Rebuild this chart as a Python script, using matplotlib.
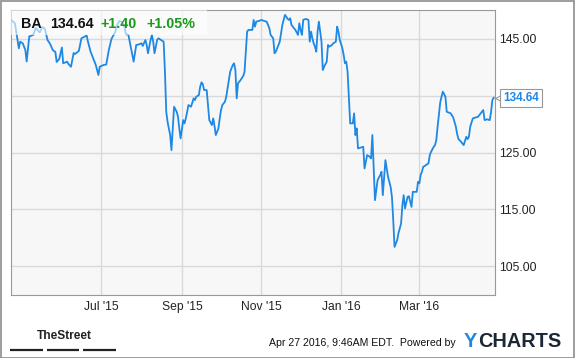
import matplotlib
matplotlib.use("Agg")
import matplotlib.pyplot as plt
import matplotlib.transforms as mtransforms
from matplotlib.patches import Rectangle
from matplotlib.lines import Line2D
import pandas as pd

# header / footer text
ticker = "BA"
change = "+1.40"
change_pct = "+1.05%"
stamp = "Apr 27 2016, 9:46AM EDT.  Powered by"

# daily closes
dates = [
    "2015-04-23", "2015-04-26", "2015-04-28", "2015-04-29", "2015-04-30", "2015-05-02", "2015-05-04",
    "2015-05-05", "2015-05-07", "2015-05-10", "2015-05-12", "2015-05-15", "2015-05-17", "2015-05-19",
    "2015-05-21", "2015-05-23", "2015-05-25", "2015-05-27", "2015-05-28", "2015-05-30", "2015-06-01",
    "2015-06-02", "2015-06-05", "2015-06-06", "2015-06-08", "2015-06-10", "2015-06-11", "2015-06-14",
    "2015-06-16", "2015-06-18", "2015-06-20", "2015-06-21", "2015-06-23", "2015-06-24", "2015-06-27",
    "2015-06-29", "2015-06-30", "2015-07-03", "2015-07-05", "2015-07-07", "2015-07-09", "2015-07-12",
    "2015-07-13", "2015-07-15", "2015-07-17", "2015-07-19", "2015-07-20", "2015-07-22", "2015-07-24",
    "2015-07-26", "2015-07-28", "2015-07-30", "2015-08-01", "2015-08-02", "2015-08-04", "2015-08-05",
    "2015-08-06", "2015-08-08", "2015-08-09", "2015-08-10", "2015-08-11", "2015-08-13", "2015-08-14",
    "2015-08-16", "2015-08-18", "2015-08-19", "2015-08-20", "2015-08-21", "2015-08-23", "2015-08-24",
    "2015-08-25", "2015-08-26", "2015-08-28", "2015-08-29", "2015-08-30", "2015-08-31", "2015-09-02",
    "2015-09-03", "2015-09-04", "2015-09-05", "2015-09-06", "2015-09-08", "2015-09-10", "2015-09-11",
    "2015-09-12", "2015-09-14", "2015-09-15", "2015-09-16", "2015-09-17", "2015-09-18", "2015-09-20",
    "2015-09-21", "2015-09-22", "2015-09-24", "2015-09-25", "2015-09-26", "2015-09-27", "2015-09-29",
    "2015-09-30", "2015-10-01", "2015-10-02", "2015-10-04", "2015-10-05", "2015-10-06", "2015-10-08",
    "2015-10-09", "2015-10-10", "2015-10-11", "2015-10-12", "2015-10-13", "2015-10-14", "2015-10-16",
    "2015-10-18", "2015-10-19", "2015-10-20", "2015-10-21", "2015-10-22", "2015-10-24", "2015-10-25",
    "2015-10-26", "2015-10-27", "2015-10-28", "2015-10-30", "2015-11-01", "2015-11-03", "2015-11-05",
    "2015-11-07", "2015-11-08", "2015-11-10", "2015-11-11", "2015-11-12", "2015-11-14", "2015-11-15",
    "2015-11-17", "2015-11-19", "2015-11-20", "2015-11-21", "2015-11-22", "2015-11-23", "2015-11-24",
    "2015-11-25", "2015-11-27", "2015-11-29", "2015-11-30", "2015-12-01", "2015-12-02", "2015-12-03",
    "2015-12-05", "2015-12-07", "2015-12-08", "2015-12-09", "2015-12-10", "2015-12-11", "2015-12-12",
    "2015-12-13", "2015-12-14", "2015-12-15", "2015-12-17", "2015-12-18", "2015-12-19", "2015-12-21",
    "2015-12-22", "2015-12-23", "2015-12-25", "2015-12-26", "2015-12-28", "2015-12-29", "2015-12-30",
    "2015-12-31", "2016-01-02", "2016-01-03", "2016-01-04", "2016-01-05", "2016-01-06", "2016-01-07",
    "2016-01-08", "2016-01-10", "2016-01-11", "2016-01-12", "2016-01-13", "2016-01-14", "2016-01-16",
    "2016-01-18", "2016-01-19", "2016-01-21", "2016-01-23", "2016-01-24", "2016-01-25", "2016-01-27",
    "2016-01-29", "2016-01-31", "2016-02-01", "2016-02-02", "2016-02-04", "2016-02-05", "2016-02-06",
    "2016-02-08", "2016-02-09", "2016-02-10", "2016-02-11", "2016-02-13", "2016-02-14", "2016-02-16",
    "2016-02-17", "2016-02-18", "2016-02-19", "2016-02-21", "2016-02-22", "2016-02-24", "2016-02-25",
    "2016-02-28", "2016-02-29", "2016-03-01", "2016-03-02", "2016-03-03", "2016-03-04", "2016-03-05",
    "2016-03-06", "2016-03-08", "2016-03-09", "2016-03-10", "2016-03-12", "2016-03-13", "2016-03-14",
    "2016-03-15", "2016-03-17", "2016-03-18", "2016-03-19", "2016-03-21", "2016-03-22", "2016-03-25",
    "2016-03-27", "2016-03-29", "2016-03-30", "2016-03-31", "2016-04-02", "2016-04-04", "2016-04-06",
    "2016-04-07", "2016-04-08", "2016-04-09", "2016-04-11", "2016-04-13", "2016-04-15", "2016-04-18",
    "2016-04-19", "2016-04-20", "2016-04-22", "2016-04-24", "2016-04-25", "2016-04-26", "2016-04-27",
]
prices = [
    148.35, 147.77, 144.82, 143.36, 144.52, 144.24, 143.06,
    141.03, 145.44, 145.70, 146.94, 146.15, 147.12, 146.76,
    144.82, 144.12, 143.06, 142.71, 140.94, 141.47, 143.50,
    140.71, 141.00, 140.59, 140.11, 142.53, 142.35, 142.88,
    145.12, 145.35, 145.62, 144.52, 142.76, 142.18, 140.41,
    138.65, 140.11, 140.41, 140.50, 143.06, 145.00, 146.29,
    147.29, 148.17, 148.00, 147.12, 145.88, 145.71, 143.36,
    141.00, 143.94, 144.03, 144.24, 143.77, 144.82, 143.94,
    142.48, 144.82, 145.71, 144.52, 142.48, 144.82, 145.12,
    144.82, 144.52, 139.23, 132.18, 130.41, 128.07, 125.42,
    129.25, 133.06, 132.18, 131.30, 129.25, 127.49, 130.71,
    130.13, 131.01, 132.13, 133.36, 133.06, 134.54, 134.24,
    134.82, 135.12, 136.59, 137.36, 137.06, 136.00, 136.00,
    133.36, 130.71, 129.83, 131.01, 129.66, 128.07, 129.25,
    131.01, 132.48, 133.36, 133.94, 134.82, 136.31, 139.23,
    139.83, 140.41, 140.71, 139.53, 134.54, 137.19, 137.77,
    138.47, 139.18, 142.76, 146.29, 146.59, 146.59, 146.59,
    148.35, 147.17, 148.05, 148.17, 148.35, 148.17, 148.05,
    146.89, 145.71, 145.12, 142.48, 142.76, 143.94, 144.52,
    147.47, 149.23, 148.93, 148.53, 148.35, 148.65, 147.47,
    147.17, 146.59, 145.71, 147.77, 146.59, 145.71, 148.35,
    148.53, 148.35, 144.52, 146.29, 145.12, 144.24, 143.64,
    142.76, 146.29, 148.05, 144.52, 139.53, 140.11, 141.00,
    143.94, 143.64, 143.94, 144.24, 144.52, 147.17, 146.29,
    144.82, 143.36, 142.18, 140.71, 141.00, 139.23, 134.54,
    130.13, 130.13, 131.90, 128.07, 129.25, 125.72, 125.86,
    126.00, 122.19, 124.54, 124.24, 123.96, 128.07, 116.60,
    120.13, 121.01, 121.60, 117.49, 123.66, 122.25, 120.72,
    118.95, 117.19, 113.08, 108.37, 109.55, 110.78, 112.49,
    115.72, 117.49, 115.14, 117.19, 117.31, 115.42, 118.07,
    118.07, 119.83, 119.55, 121.01, 121.60, 122.48, 122.60,
    122.78, 123.08, 124.54, 125.12, 126.00, 126.30, 127.19,
    129.53, 133.80, 134.82, 135.71, 134.82, 132.18, 131.90,
    131.16, 129.53, 128.25, 127.36, 126.89, 126.30, 127.77,
    127.36, 127.77, 129.53, 131.01, 131.16, 131.30, 132.18,
    132.48, 130.71, 130.84, 130.71, 132.18, 134.24, 134.64,
]

y_ticks = [105, 115, 125, 135, 145]
x_ticks = ["2015-07-01", "2015-09-01", "2015-11-01", "2016-01-01", "2016-03-01"]
x_tick_labels = ["Jul '15", "Sep '15", "Nov '15", "Jan '16", "Mar '16"]

plt.rcParams['font.family'] = ['Liberation Sans', 'DejaVu Sans']

BLUE = '#1e88e5'
GREEN = '#1a9a1a'
W, H = 575, 358

fig = plt.figure(figsize=(5.75, 3.58), dpi=100)
ax = fig.add_axes([11 / W, 1 - 295 / H, 484 / W, 285 / H])
ax.set_facecolor('#f7f7f7')

d = pd.to_datetime(dates)
ax.plot(d, prices, color=BLUE, lw=1.3, zorder=3)
ax.set_xlim(d[0], d[-1] + pd.Timedelta(days=1))
ax.set_ylim(99.9, 150.1)

ax.set_yticks(y_ticks)
ax.set_yticklabels(["" if v == 135 else f"{v:.2f}" for v in y_ticks])
ax.yaxis.tick_right()
ax.set_xticks(pd.to_datetime(x_ticks))
ax.set_xticklabels(x_tick_labels)
ax.tick_params(length=0, labelsize=8.7, colors='#222222')
ax.tick_params(axis='y', pad=3)
ax.tick_params(axis='x', pad=4)
ax.grid(True, color='#d9d9d9', lw=1)
ax.set_axisbelow(True)
for s in ax.spines.values():
    s.set_color('#999999')
    s.set_linewidth(0.8)

# last price flag on the right
trans = mtransforms.blended_transform_factory(ax.transAxes, ax.transData)
ptr = trans + mtransforms.ScaledTranslation(4.4 / 100, 0, fig.dpi_scale_trans)
ax.plot([1], [prices[-1]], marker='<', ms=6, mfc='white', mec='#999999', mew=0.8,
        transform=ptr, clip_on=False, zorder=4)
ax.annotate(f"{prices[-1]:.2f}", xy=(1, prices[-1]), xycoords=trans,
            xytext=(8, 0), textcoords='offset pixels', ha='left', va='center',
            color=BLUE, fontsize=8.5, fontweight='bold', zorder=5,
            annotation_clip=False,
            bbox=dict(boxstyle='square,pad=0.25', fc='white', ec='#999999', lw=0.8))

# header box
fig.add_artist(Rectangle((11 / W, 1 - 35 / H), 196 / W, 25 / H, transform=fig.transFigure,
                         fc='white', ec='none', alpha=0.6, zorder=2))
hy = 1 - 24.2 / H
fig.text(21 / W, hy, ticker, fontsize=10.3, fontweight='bold', color='#111111', va='center', zorder=3)
fig.text(50 / W, hy, f"{prices[-1]:.2f}", fontsize=10.3, fontweight='bold', color='#111111', va='center', zorder=3)
fig.text(100.7 / W, hy, change, fontsize=10.3, fontweight='bold', color=GREEN, va='center', zorder=3)
fig.text(146 / W, hy, change_pct, fontsize=10.3, fontweight='bold', color=GREEN, va='center', zorder=3)

# footer
fig.text(37.3 / W, 1 - 335.7 / H, "TheStreet", fontsize=8.6, fontweight='bold', color='#222222', va='center')
for x0, x1 in [(10, 42.7), (46.7, 79.3), (83.3, 116)]:
    fig.add_artist(Line2D([x0 / W, x1 / W], [1 - 350 / H] * 2, transform=fig.transFigure,
                          color='#222222', lw=1.6, solid_capstyle='butt'))
fig.text(269.3 / W, 1 - 343.3 / H, stamp, fontsize=7.6, color='#111111', va='center')
fig.text(463.3 / W, 1 - 341.7 / H, "Y", fontsize=14.3, fontweight='bold', color=BLUE, va='center')
fig.text(478.5 / W, 1 - 341.7 / H, "CHARTS", fontsize=14.3, fontweight='bold', color='#1d2733', va='center')

# outer frame
fig.add_artist(Rectangle((0.5 / W, 0.5 / H), 1 - 2 / W, 1 - 1.5 / H, transform=fig.transFigure,
                         fill=False, ec='#8c8c8c', lw=1.2))

fig.savefig('out.png', dpi=100)
